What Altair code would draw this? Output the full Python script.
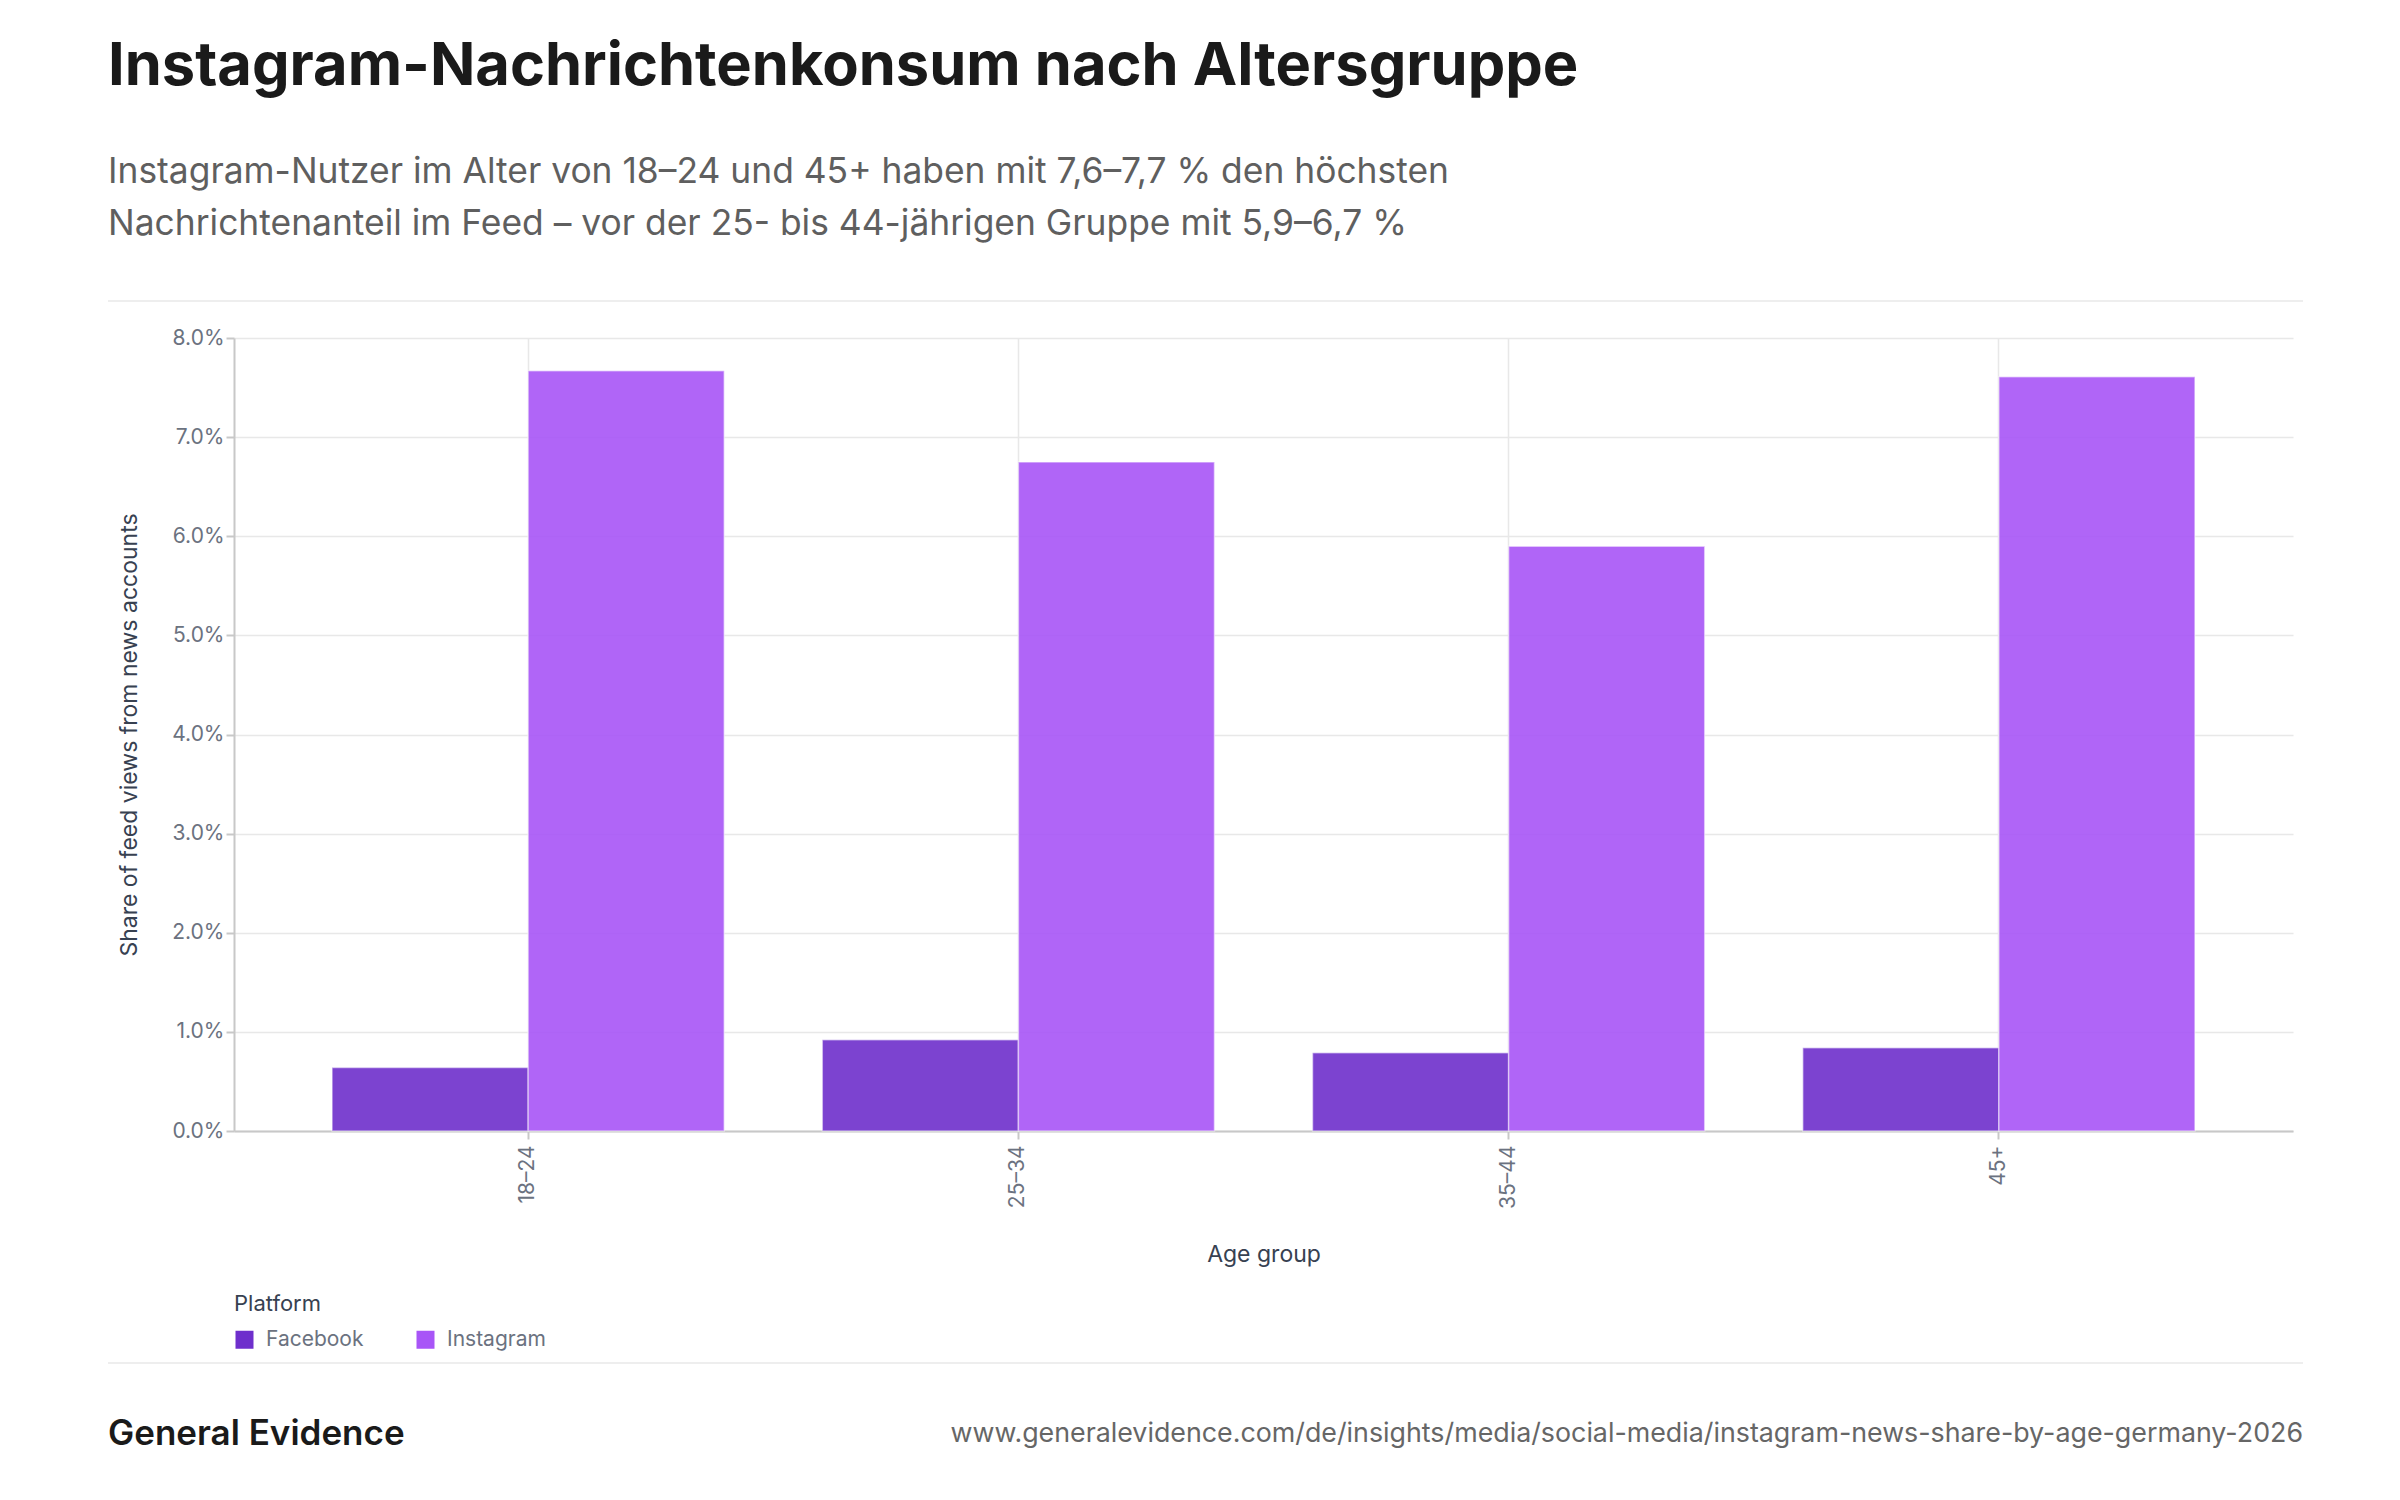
import altair as alt
import pandas as pd

# ---- data ----
age_groups = ["18–24", "25–34", "35–44", "45+"]
platforms = ["Facebook", "Instagram"]
facebook_share = [0.0064, 0.0092, 0.0079, 0.0084]
instagram_share = [0.0767, 0.0675, 0.0590, 0.0761]
y_ticks = [0.0, 0.01, 0.02, 0.03, 0.04, 0.05, 0.06, 0.07, 0.08]
platform_colors = ["#6e2fcc", "#a855f7"]

title_text = "Instagram-Nachrichtenkonsum nach Altersgruppe"
subtitle_lines = [
    "Instagram-Nutzer im Alter von 18–24 und 45+ haben mit 7,6–7,7 % den höchsten",
    "Nachrichtenanteil im Feed – vor der 25- bis 44-jährigen Gruppe mit 5,9–6,7 %",
]
y_title = "Share of feed views from news accounts"
x_title = "Age group"
legend_title = "Platform"
brand_text = ["General Evidence"]
source_text = ["www.generalevidence.com/de/insights/media/social-media/instagram-news-share-by-age-germany-2026"]

rows = []
for i, g in enumerate(age_groups):
    rows.append({"age": g, "platform": platforms[0], "share": facebook_share[i]})
    rows.append({"age": g, "platform": platforms[1], "share": instagram_share[i]})
df = pd.DataFrame(rows)

FONT = "Inter"
W, H = 2059, 793

bars = alt.Chart(df).mark_bar(
    opacity=0.9, stroke="white", strokeWidth=1.5, strokeOpacity=0.5
).encode(
    x=alt.X(
        "age:N",
        sort=age_groups,
        title=x_title,
        scale=alt.Scale(paddingInner=0.2, paddingOuter=0.2),
        axis=alt.Axis(
            labelAngle=270,
            grid=True,
            bandPosition=0.5,
            labelPadding=6,
            titlePadding=35,
        ),
    ),
    xOffset=alt.XOffset("platform:N", sort=platforms, scale=alt.Scale(paddingInner=0, paddingOuter=0)),
    y=alt.Y(
        "share:Q",
        title=y_title,
        scale=alt.Scale(domain=[0, 0.08], nice=False),
        axis=alt.Axis(values=y_ticks, format=".1%", titlePadding=30),
    ),
    color=alt.Color(
        "platform:N",
        sort=platforms,
        scale=alt.Scale(domain=platforms, range=platform_colors),
        legend=alt.Legend(
            title=legend_title,
            orient="none",
            legendX=0,
            legendY=956,
            direction="horizontal",
            symbolType="square",
            symbolSize=324,
            symbolStrokeWidth=0,
            symbolOpacity=1,
            labelOffset=11,
            columnPadding=51,
            titlePadding=13,
        ),
    ),
)

rule_df = pd.DataFrame({"r": [0]})
top_rule = alt.Chart(rule_df).mark_rule(color="#eeeeee", strokeWidth=2).encode(
    x=alt.value(-126), x2=alt.value(2069), y=alt.value(-37)
)
bottom_rule = alt.Chart(rule_df).mark_rule(color="#eeeeee", strokeWidth=2).encode(
    x=alt.value(-126), x2=alt.value(2069), y=alt.value(1025)
)

brand = alt.Chart(pd.DataFrame({"t": brand_text})).mark_text(
    align="left", baseline="middle", font=FONT, fontSize=35, fontWeight=600, color="#1a1a1a"
).encode(x=alt.value(-126), y=alt.value(1096), text="t:N")

source = alt.Chart(pd.DataFrame({"t": source_text})).mark_text(
    align="right", baseline="middle", font=FONT, fontSize=26.8, color="#666666"
).encode(x=alt.value(2069), y=alt.value(1096), text="t:N")

chart = alt.layer(top_rule, bottom_rule, bars, brand, source).properties(
    width=W,
    height=H,
    autosize=alt.AutoSizeParams(type="none"),
    padding={"left": 226, "top": 330, "right": 99, "bottom": 361},
    title=alt.TitleParams(
        text=title_text,
        subtitle=subtitle_lines,
        anchor="start",
        frame="group",
        dx=-126,
        offset=57,
        font=FONT,
        fontSize=59.6,
        fontWeight=700,
        color="#1a1a1a",
        subtitleFont=FONT,
        subtitleFontSize=35.4,
        subtitleColor="#5f5f5f",
        subtitleLineHeight=52,
        subtitlePadding=57,
    ),
).configure(
    background="white"
).configure_view(
    stroke=None
).configure_axis(
    labelFont=FONT,
    labelFontSize=21,
    labelColor="#6b7280",
    titleFont=FONT,
    titleFontSize=23,
    titleFontWeight="normal",
    titleColor="#374151",
    gridColor="#e8e8e8",
    gridWidth=1.5,
    domainColor="#c8c8c8",
    domainWidth=2,
    tickColor="#c8c8c8",
    tickSize=8,
    tickWidth=2,
).configure_legend(
    titleFont=FONT,
    titleFontSize=22,
    titleFontWeight="normal",
    titleColor="#374151",
    labelFont=FONT,
    labelFontSize=21,
    labelColor="#6b7280",
)

chart.save("out.html", embed_options={"renderer": "svg", "actions": False})
